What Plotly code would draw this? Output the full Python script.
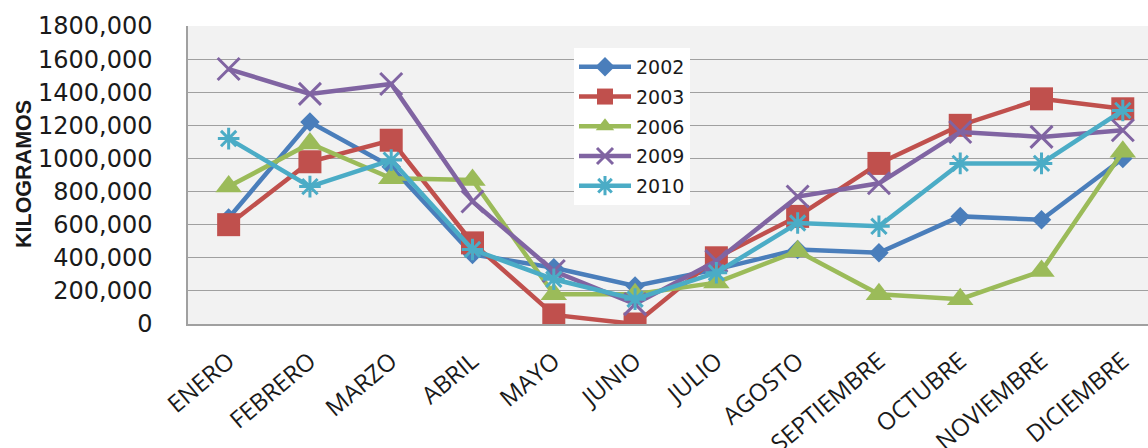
import plotly.graph_objects as go

# Monthly volumes (kg) per year
months = ["ENERO", "FEBRERO", "MARZO", "ABRIL", "MAYO", "JUNIO", "JULIO",
          "AGOSTO", "SEPTIEMBRE", "OCTUBRE", "NOVIEMBRE", "DICIEMBRE"]

kg_2002 = [640000, 1220000, 950000, 420000, 340000, 230000, 330000,
           450000, 430000, 650000, 630000, 1000000]
kg_2003 = [600000, 980000, 1110000, 490000, 55000, 0, 400000,
           650000, 970000, 1200000, 1360000, 1300000]
kg_2006 = [830000, 1090000, 880000, 870000, 180000, 180000, 250000,
           440000, 180000, 150000, 320000, 1040000]
kg_2009 = [1540000, 1390000, 1450000, 740000, 320000, 120000, 380000,
           770000, 850000, 1160000, 1130000, 1170000]
kg_2010 = [1120000, 830000, 990000, 450000, 270000, 150000, 310000,
           610000, 590000, 970000, 970000, 1290000]

y_ticks = [0, 200000, 400000, 600000, 800000, 1000000, 1200000,
           1400000, 1600000, 1800000]
y_tick_labels = ["0" if v == 0 else f"{v // 1000},{v % 1000:03d}" for v in y_ticks]

series = [
    ("2002", kg_2002, "#4a7ebb", dict(symbol="diamond", size=15)),
    ("2003", kg_2003, "#c0504d", dict(symbol="square", size=23)),
    ("2006", kg_2006, "#9bbb59", dict(symbol="triangle-up", size=23)),
    ("2009", kg_2009, "#8064a2", dict(symbol="x-thin", size=22)),
    ("2010", kg_2010, "#4bacc6", dict(symbol="asterisk-open", size=18)),
]

fig = go.Figure()
for name, vals, color, mk in series:
    thin = mk["symbol"] in ("x-thin", "asterisk-open")
    fig.add_trace(go.Scatter(
        x=months, y=vals, name=name, legendgroup=name,
        mode="lines+markers",
        line=dict(color=color, width=4.5),
        marker=dict(symbol=mk["symbol"], size=mk["size"], color=color,
                    line=dict(color=color, width=3 if thin else 0)),
    ))

fig.update_layout(
    width=1148, height=448,
    margin=dict(l=188, r=0, t=26, b=124),
    paper_bgcolor="white",
    plot_bgcolor="#f2f2f2",
    showlegend=True,
    legend=dict(
        x=(574 - 188) / 960, y=(324 - 48) / 298, xanchor="left", yanchor="top",
        bgcolor="white", borderwidth=0,
        font=dict(family="DejaVu Sans", size=19, color="#1a1a1a"),
        itemwidth=52, tracegroupgap=2,
    ),
    xaxis=dict(
        range=[-0.5, 11.31],
        showgrid=False, automargin=False,
        showline=True, linecolor="#a0a0a0", linewidth=1.5,
        tickangle=-40,
        tickfont=dict(family="Open Sans", size=24, color="#1a1a1a"),
        ticks="", ticklabelstandoff=12,
    ),
    yaxis=dict(
        range=[0, 1800000], automargin=False,
        tickvals=y_ticks, ticktext=y_tick_labels,
        showgrid=True, gridcolor="#a0a0a0", gridwidth=1.2,
        zeroline=False,
        showline=True, linecolor="#a0a0a0", linewidth=1.5,
        ticks="", ticklabelstandoff=29,
        tickfont=dict(family="DejaVu Sans", size=24, color="#1a1a1a"),
    ),
    annotations=[dict(
        text="<b>KILOGRAMOS</b>", textangle=-90,
        xref="paper", yref="paper",
        x=(24 - 188) / 960, y=(324 - 174) / 298,
        xanchor="center", yanchor="middle", showarrow=False,
        font=dict(family="Liberation Sans", size=21.5, color="#1a1a1a"),
    )],
)

fig.write_html("out.html")
